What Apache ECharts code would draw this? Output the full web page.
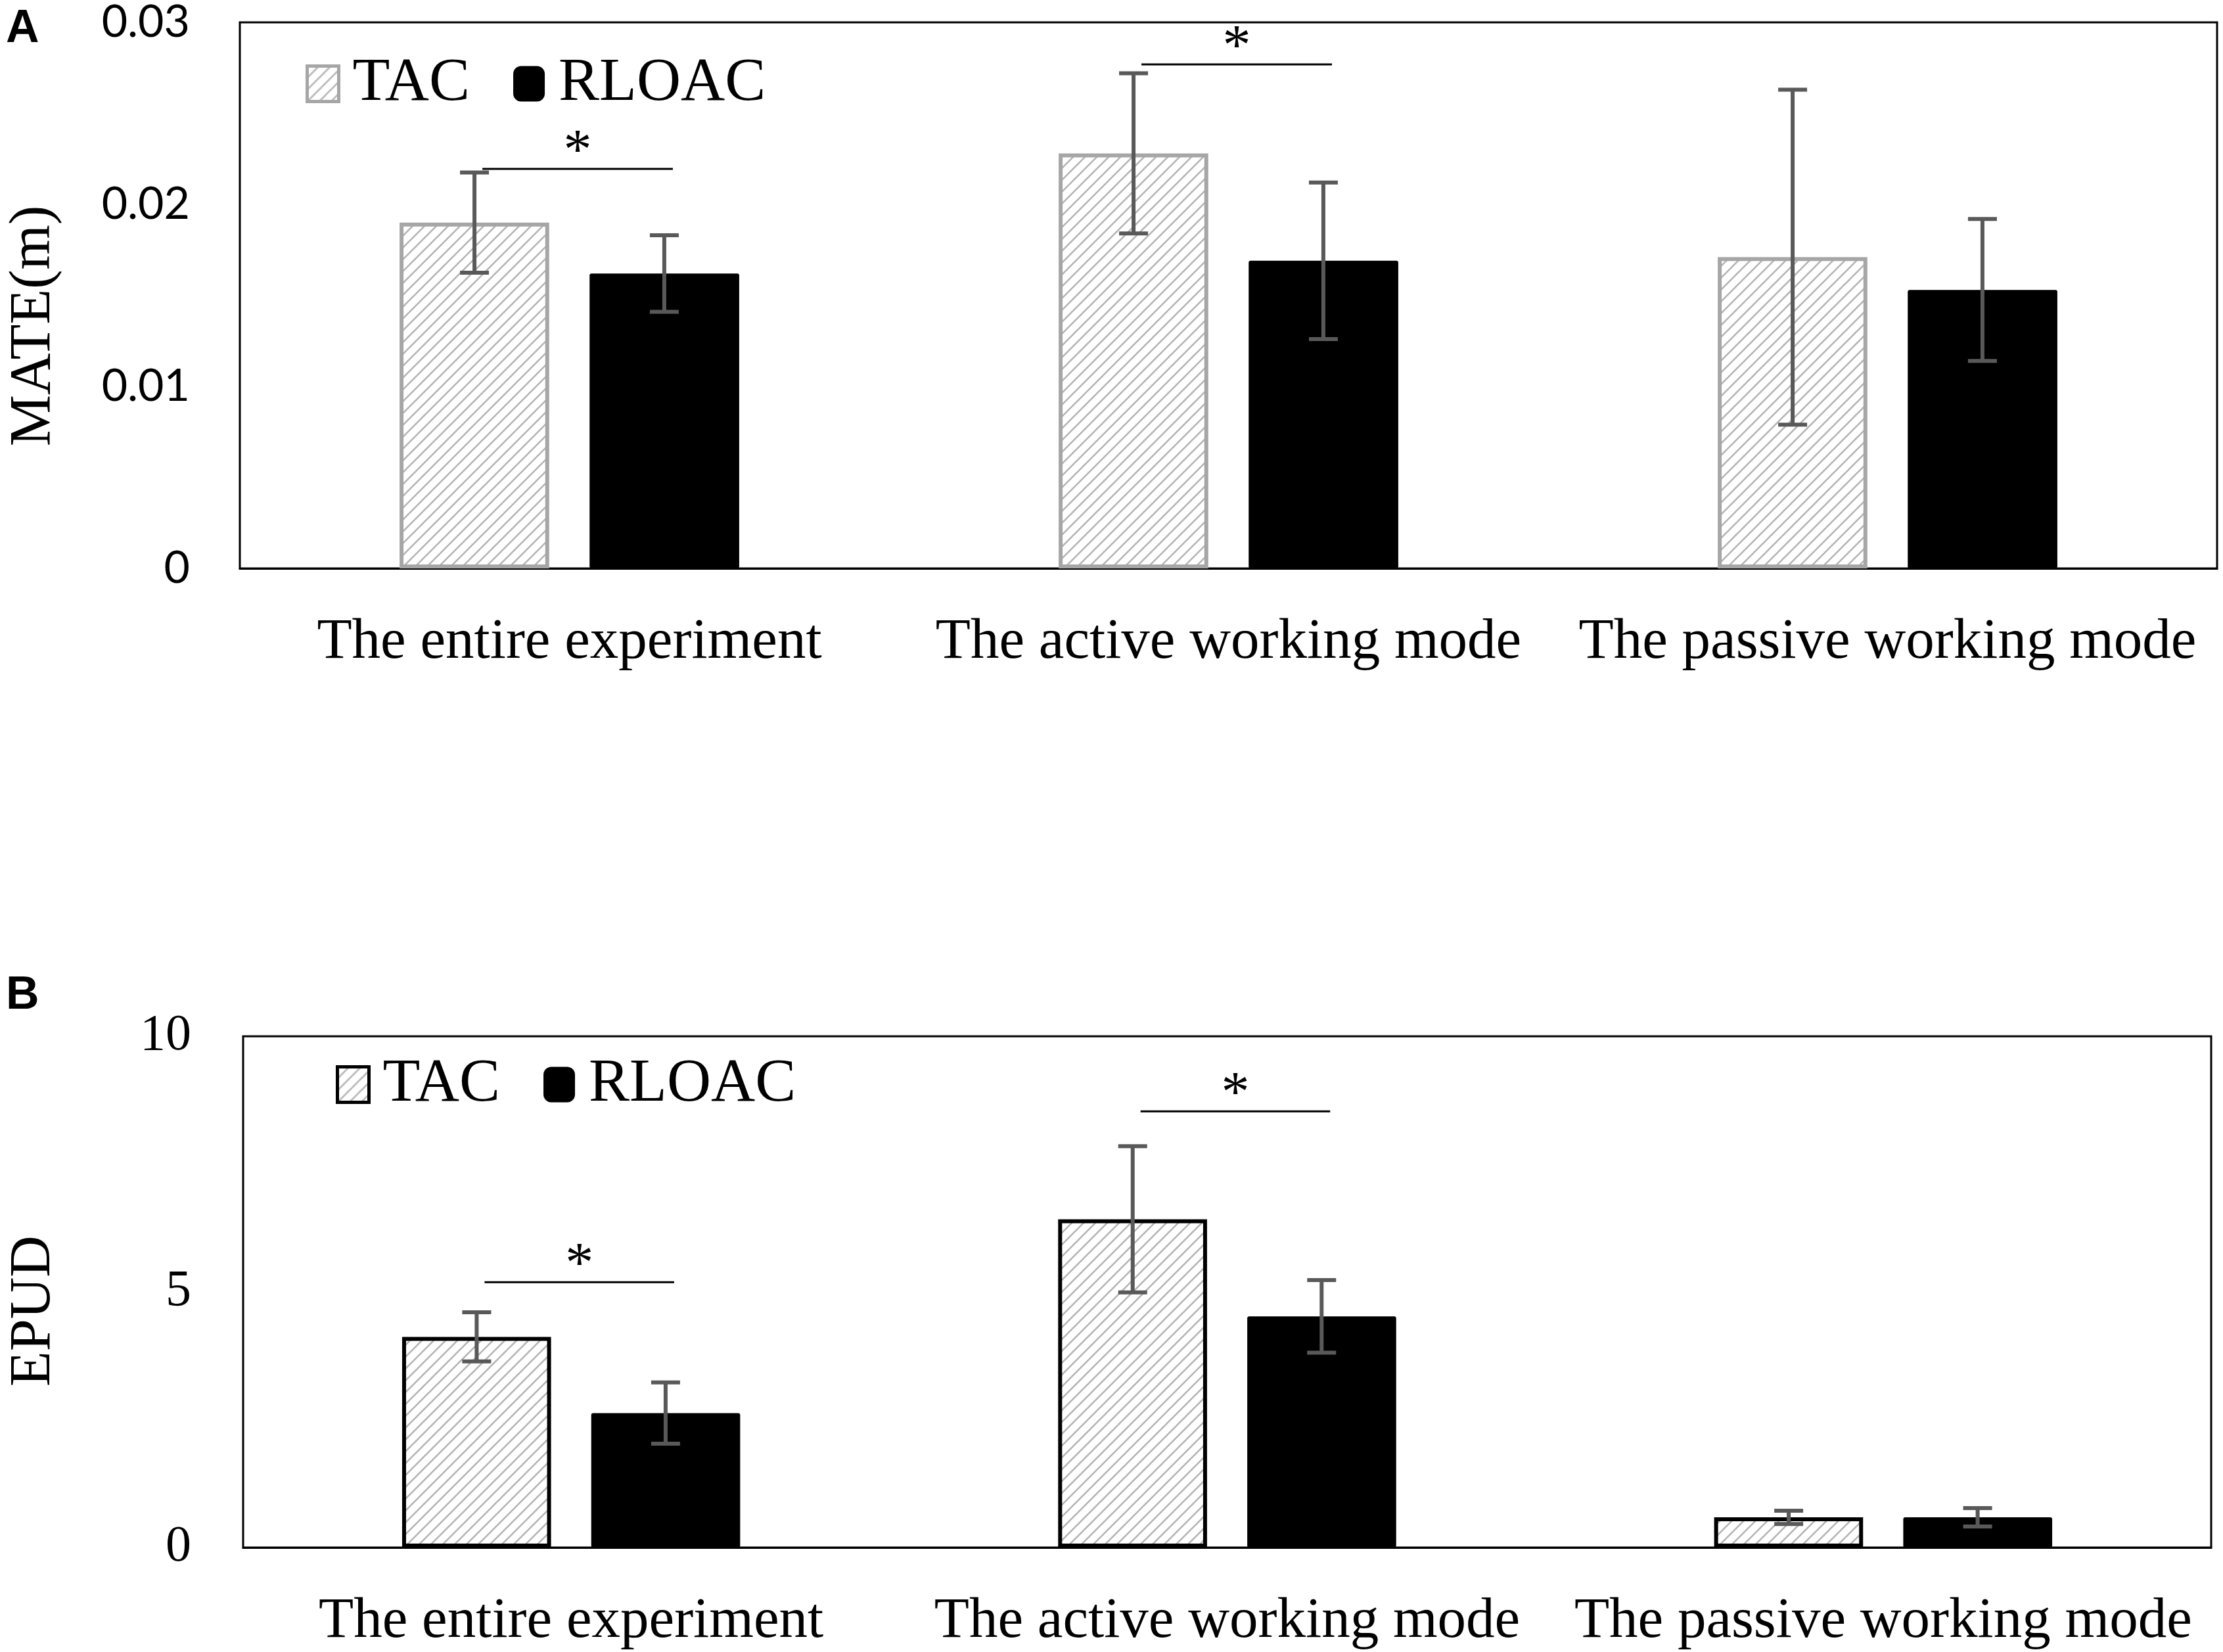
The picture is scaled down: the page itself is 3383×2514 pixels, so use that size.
<!DOCTYPE html>
<html>
<head>
<meta charset="utf-8">
<title>MATE / EPUD</title>
<script src="https://cdn.jsdelivr.net/npm/echarts@6/dist/echarts.min.js"></script>
<style>
html, body { margin: 0; padding: 0; background: #fff; }
#chart { width: 3383px; height: 2514px; }
</style>
</head>
<body>
<div id="chart"></div>
<script>
var categories = ['The entire experiment', 'The active working mode', 'The passive working mode'];
var seriesNames = ['TAC', 'RLOAC'];

// A: MATE(m)
var mateTac = [0.0190, 0.0228, 0.0171];
var mateTacErr = [0.00275, 0.0044, 0.0092];
var mateRloac = [0.0162, 0.0169, 0.0153];
var mateRloacErr = [0.0021, 0.0043, 0.0039];
var mateSig = [[0, 0.02195], [1, 0.02769]];
var mateTicks = [0, 0.01, 0.02, 0.03];

// B: EPUD
var epudTac = [4.12, 6.42, 0.59];
var epudTacErr = [0.48, 1.43, 0.13];
var epudRloac = [2.63, 4.52, 0.59];
var epudRloacErr = [0.60, 0.71, 0.18];
var epudSig = [[0, 5.19], [1, 8.53]];
var epudTicks = [0, 5, 10];

var SERIF = '"Liberation Serif", "Times New Roman", serif';
var PAIR_OFFSET = 0.144;   // half distance between bar centres, in bands
var CAP = 44;

//斜线填充
function makeHatch() {
	var c = document.createElement('canvas');
	var s = 18;
	c.width = s; c.height = s;
	var ctx = c.getContext('2d');
	ctx.fillStyle = '#fff';
	ctx.fillRect(0, 0, s, s);
	ctx.strokeStyle = '#b4b4b4';
	ctx.lineWidth = 2.6;
	ctx.beginPath();
	ctx.moveTo(-2, s + 2); ctx.lineTo(s + 2, -2);
	ctx.moveTo(-2, 2); ctx.lineTo(2, -2);
	ctx.moveTo(s - 2, s + 2); ctx.lineTo(s + 2, s - 2);
	ctx.stroke();
	return c;
}
var hatch = {image: makeHatch(), repeat: 'repeat'};

function errData(tac, tacErr, rloac, rloacErr) {
	var out = [];
	for (var i = 0; i < tac.length; i++) {
		out.push([i, tac[i], tacErr[i], -1]);
		out.push([i, rloac[i], rloacErr[i], 1]);
	}
	return out;
}

function renderError(params, api) {
	var cat = api.value(0), v = api.value(1), e = api.value(2), side = api.value(3);
	var band = api.size([1, 0])[0];
	var x = api.coord([cat, v])[0] + side * band * PAIR_OFFSET;
	var yTop = api.coord([cat, v + e])[1];
	var yBot = api.coord([cat, v - e])[1];
	var h = CAP / 2;
	var st = {stroke: '#595959', lineWidth: 6};
	return {type: 'group', children: [
		{type: 'line', shape: {x1: x, y1: yTop, x2: x, y2: yBot}, style: st},
		{type: 'line', shape: {x1: x - h, y1: yTop, x2: x + h, y2: yTop}, style: st},
		{type: 'line', shape: {x1: x - h, y1: yBot, x2: x + h, y2: yBot}, style: st}
	]};
}

function renderSig(params, api) {
	var p = api.coord([api.value(0), api.value(1)]);
	var band = api.size([1, 0])[0];
	var x1 = p[0] - band * 0.132, x2 = p[0] + band * 0.157;
	return {type: 'group', children: [
		{type: 'line', shape: {x1: x1, y1: p[1], x2: x2, y2: p[1]}, style: {stroke: '#000', lineWidth: 3}},
		{type: 'text', style: {text: '*', x: (x1 + x2) / 2, y: p[1] - 24, align: 'center', verticalAlign: 'middle',
			font: '86px ' + SERIF, fill: '#000'}}
	]};
}

function panelSeries(idx, tac, tacErr, rloac, rloacErr, sig, tacBorder) {
	return [{
		name: seriesNames[0], type: 'bar', xAxisIndex: idx, yAxisIndex: idx,
		barWidth: '22.7%', barGap: '27%', data: tac,
		itemStyle: {color: hatch, borderColor: tacBorder, borderWidth: 6}
	}, {
		name: seriesNames[1], type: 'bar', xAxisIndex: idx, yAxisIndex: idx,
		barWidth: '22.7%', barGap: '27%', data: rloac,
		itemStyle: {color: '#000', borderRadius: 3}
	}, {
		type: 'custom', xAxisIndex: idx, yAxisIndex: idx, z: 5,
		renderItem: renderError, encode: {x: 0, y: 1},
		data: errData(tac, tacErr, rloac, rloacErr)
	}, {
		type: 'custom', xAxisIndex: idx, yAxisIndex: idx, z: 5,
		renderItem: renderSig, encode: {x: 0, y: 1},
		data: sig
	}];
}

function legendFor(idx, left, top, tacBorder) {
	return {
		left: left, top: top, padding: 0, itemGap: 66, itemWidth: 48, itemHeight: 54,
		selectedMode: false,
		textStyle: {fontFamily: SERIF, fontSize: 93, color: '#000', padding: [0, 0, 0, 16]},
		data: [
			{name: 'TAC', icon: 'rect', itemStyle: {color: hatch, borderColor: tacBorder, borderWidth: 5}},
			{name: 'RLOAC', icon: 'roundRect', itemStyle: {color: '#000'}}
		]
	};
}

function yAxisFor(idx, ticks, name, nameGap, namePad, labelFont, labelSize, margin) {
	return {
		gridIndex: idx, type: 'value', min: ticks[0], max: ticks[ticks.length - 1],
		interval: ticks[1] - ticks[0],
		name: name, nameLocation: 'middle', nameGap: nameGap,
		nameTextStyle: {fontFamily: SERIF, fontSize: 88, color: '#000', padding: namePad},
		axisLine: {show: false}, axisTick: {show: false}, splitLine: {show: false},
		axisLabel: {fontFamily: labelFont, fontSize: labelSize, color: '#000', margin: margin}
	};
}

function xAxisFor(idx) {
	return {
		gridIndex: idx, type: 'category', data: categories,
		axisLine: {lineStyle: {color: '#000', width: 3}}, axisTick: {show: false},
		axisLabel: {fontFamily: SERIF, fontSize: 87, color: '#000', margin: 70, interval: 0}
	};
}

var myChart = echarts.init(document.getElementById('chart'));
myChart.setOption({
	backgroundColor: '#fff',
	animation: false,
	title: [
		{text: 'A', left: 9, top: 10, padding: 0,
			textStyle: {fontFamily: '"Liberation Sans", Arial, sans-serif', fontWeight: 'bold', fontSize: 70, color: '#000'}},
		{text: 'B', left: 9, top: 1481, padding: 0,
			textStyle: {fontFamily: '"Liberation Sans", Arial, sans-serif', fontWeight: 'bold', fontSize: 70, color: '#000'}}
	],
	legend: [
		legendFor(0, 465, 81, '#a6a6a6'),
		legendFor(1, 511, 1604, '#000')
	],
	grid: [
		{left: 361, right: 9, top: 34, height: 831, show: true, borderColor: '#000', borderWidth: 3},
		{left: 370, right: 18, top: 1577, height: 778, show: true, borderColor: '#000', borderWidth: 3}
	],
	xAxis: [xAxisFor(0), xAxisFor(1)],
	yAxis: [
		yAxisFor(0, mateTicks, 'MATE(m)', 269, [0, 93, 0, 0], 'Lato, "Open Sans", sans-serif', 68, 76),
		yAxisFor(1, epudTicks, 'EPUD', 274, [0, 58, 0, 0], SERIF, 78, 79)
	],
	series: panelSeries(0, mateTac, mateTacErr, mateRloac, mateRloacErr, mateSig, '#a6a6a6')
		.concat(panelSeries(1, epudTac, epudTacErr, epudRloac, epudRloacErr, epudSig, '#000'))
});

window.onresize = function () {
	myChart.resize();
};
</script>
</body>
</html>
